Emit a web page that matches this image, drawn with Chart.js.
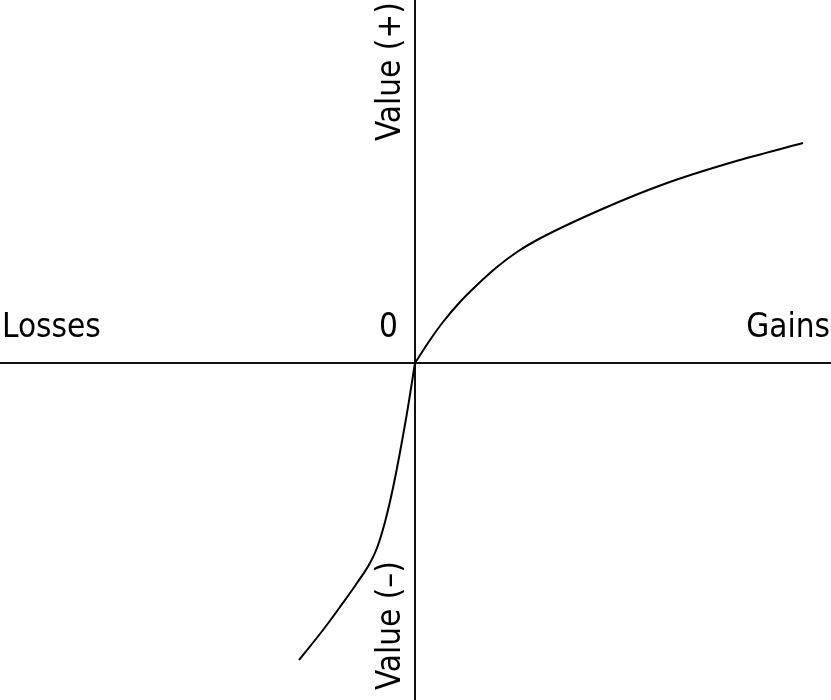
<!DOCTYPE html>
<html>
<head>
<meta charset="utf-8">
<script src="https://cdn.jsdelivr.net/npm/chart.js@4"></script>
<style>
body{margin:0;background:#fff}
#wrap{width:831px;height:700px;position:relative}
</style>
</head>
<body>
<div id="wrap"><canvas id="valueChart"></canvas></div>
<script>
// value function (arbitrary units, origin = reference point)
const gainsX = [0, 15, 28, 45, 62, 82, 102, 122, 185, 252, 318, 388]
const gainsY = [0, 23, 41, 61, 78, 96, 111, 123, 153, 180, 201, 220]
const lossesX = [-116, -92, -75, -58, -45, -38, -30, -22, -8, 0]
const lossesY = [-297, -267, -244, -220, -200, -185, -159, -125, -50, 0]

const xRange = [-415, 416]
const yRange = [-337, 363]

function pts(xs, ys){
return xs.map((x,i) => ({x:x, y:ys[i]}))
}

function setFont(c){
c.font = '33px "DejaVu Sans Condensed", "DejaVu Sans", sans-serif'
c.fontStretch = "condensed"
}

// axes through zero and the text labels
const axesPlugin = {
id:"axes",
beforeDatasetsDraw(chart){
const c = chart.ctx
const x0 = chart.scales.x.getPixelForValue(0)
const y0 = chart.scales.y.getPixelForValue(0)
c.save()
c.strokeStyle = "#111"
c.lineWidth = 2
c.beginPath()
c.moveTo(chart.chartArea.left, y0)
c.lineTo(chart.chartArea.right, y0)
c.moveTo(x0, chart.chartArea.top)
c.lineTo(x0, chart.chartArea.bottom)
c.stroke()

c.fillStyle = "#000"
setFont(c)
c.textBaseline = "alphabetic"
c.textAlign = "left"
c.fillText("Losses", chart.chartArea.left + 2, y0 - 26)
c.textAlign = "right"
c.fillText("0", x0 - 17, y0 - 26)
c.fillText("Gains", chart.chartArea.right - 1, y0 - 26)

c.textAlign = "left"
c.save()
c.translate(x0 - 15, 141)
c.rotate(-Math.PI/2)
c.fillText("Value (+)", 0, 0)
c.restore()
c.save()
c.translate(x0 - 15, 690)
c.rotate(-Math.PI/2)
c.fillText("Value (\u2013)", 0, 0)
c.restore()
c.restore()
}
}

new Chart(document.getElementById("valueChart"),{
type:"line",
data:{
datasets:[{
label:"Gains",
data:pts(gainsX, gainsY),
borderColor:"#000",
borderWidth:2,
pointRadius:0,
cubicInterpolationMode:"monotone",
fill:false
},{
label:"Losses",
data:pts(lossesX, lossesY),
borderColor:"#000",
borderWidth:2,
pointRadius:0,
cubicInterpolationMode:"monotone",
fill:false
}]
},
options:{
responsive:true,
maintainAspectRatio:false,
animation:false,
layout:{padding:0},
plugins:{legend:{display:false}, tooltip:{enabled:false}},
scales:{
x:{type:"linear", min:xRange[0], max:xRange[1], display:false},
y:{type:"linear", min:yRange[0], max:yRange[1], display:false}
}
},
plugins:[axesPlugin]
})
</script>
</body>
</html>
